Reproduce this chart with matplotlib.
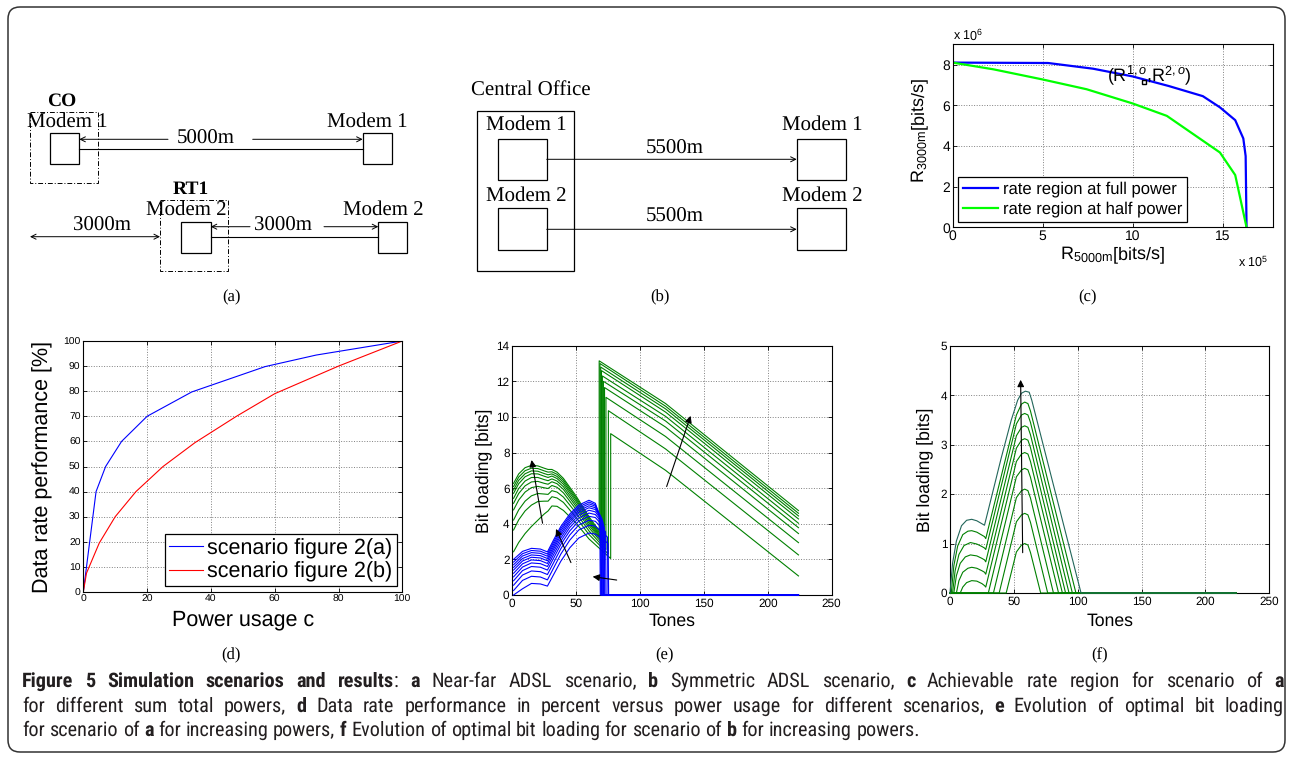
import matplotlib
matplotlib.use('Agg')
import matplotlib.pyplot as plt
from matplotlib.patches import Rectangle, FancyBboxPatch
from matplotlib.font_manager import FontProperties, findfont

W, H = 1293, 761

# ---- (c) achievable rate region (x in 1e5 bit/s, y in 1e6 bit/s)
C_FULL_X = [0, 5.3, 7.8, 10, 12, 13.9, 14.85, 15.7, 16.15, 16.28, 16.33]
C_FULL_Y = [8.1, 8.08, 7.8, 7.42, 6.95, 6.45, 5.9, 5.27, 4.37, 3.5, 0]
C_HALF_X = [0, 2.26, 5, 7.44, 10, 11.9, 14.85, 15.7, 16.33]
C_HALF_Y = [8.1, 7.77, 7.27, 6.79, 6.09, 5.48, 3.68, 2.57, 0]
C_OPT = (10.65, 7.15)
C_LABELS = ['rate region at full power', 'rate region at half power']

# ---- (d) data rate performance vs power usage
D_POWER_A = [0, 4, 7, 12, 20, 34, 57, 73, 100]
D_RATE_A = [0, 40, 50, 60, 70, 79.7, 89.8, 94.4, 100]
D_POWER_B = [0, 1, 5, 10, 16.5, 25, 35, 48, 60, 80, 100]
D_RATE_B = [0, 7.5, 19.5, 30, 40, 50, 59.5, 70, 79, 90, 100]
D_LABELS = ['scenario figure 2(a)', 'scenario figure 2(b)']

# ---- (e) bit loading, near-far scenario
# green (user 1): left part on tones GL_X + jump tone, then jump to peak, mid at 120, end at 224
GL_X = [1, 5, 10, 15, 20, 25, 28, 31, 35, 40, 50, 60]
GL_Y = [
    [6.27, 6.80, 7.15, 7.28, 7.25, 7.12, 7.05, 7.05, 6.90, 6.55, 5.55, 4.40, 3.60],
    [6.09, 6.62, 6.98, 7.12, 7.10, 6.97, 6.90, 6.92, 6.78, 6.45, 5.45, 4.32, 3.45],
    [5.90, 6.44, 6.81, 6.97, 6.95, 6.82, 6.75, 6.80, 6.66, 6.34, 5.35, 4.24, 3.30],
    [5.71, 6.25, 6.64, 6.81, 6.80, 6.67, 6.60, 6.68, 6.54, 6.22, 5.24, 4.15, 3.18],
    [5.43, 5.98, 6.40, 6.60, 6.60, 6.48, 6.42, 6.52, 6.40, 6.08, 5.10, 4.04, 3.05],
    [5.15, 5.70, 6.13, 6.35, 6.38, 6.27, 6.22, 6.36, 6.25, 5.93, 4.96, 3.92, 2.92],
    [4.78, 5.33, 5.78, 6.03, 6.10, 6.02, 5.98, 6.15, 6.05, 5.74, 4.80, 3.78, 2.75],
    [4.21, 4.78, 5.27, 5.57, 5.70, 5.67, 5.65, 5.86, 5.78, 5.50, 4.60, 3.60, 2.55],
    [3.65, 4.22, 4.72, 5.05, 5.25, 5.27, 5.27, 5.52, 5.45, 5.20, 4.35, 3.40, 2.30],
    [2.43, 2.95, 3.45, 3.85, 4.20, 4.55, 4.72, 5.00, 4.98, 4.75, 4.03, 3.15, 2.05],
]
GR_XJ = [68.0, 68.6, 69.2, 69.8, 70.5, 71.3, 72.2, 73.3, 75.2, 77.0]
GR_PEAK = [13.15, 13.0, 12.8, 12.6, 12.3, 12.0, 11.65, 11.1, 10.35, 9.06]
GR_MID = [10.75, 10.6, 10.45, 10.27, 10.03, 9.77, 9.43, 8.9, 8.2, 7.0]
GR_END = [4.74, 4.59, 4.44, 4.27, 4.03, 3.78, 3.45, 2.94, 2.25, 1.07]
# blue (user 2)
BL_X = [1, 8, 15, 22, 27.5, 32, 38, 45, 52, 60, 65]
BL_Y = [
    [2.00, 2.45, 2.62, 2.58, 2.42, 3.05, 3.85, 4.55, 5.05, 5.32, 5.15],
    [1.85, 2.32, 2.50, 2.46, 2.30, 2.93, 3.73, 4.44, 4.95, 5.22, 5.07],
    [1.70, 2.19, 2.38, 2.34, 2.18, 2.80, 3.61, 4.33, 4.85, 5.12, 4.99],
    [1.55, 2.05, 2.25, 2.21, 2.05, 2.67, 3.48, 4.21, 4.74, 5.01, 4.90],
    [1.40, 1.91, 2.12, 2.08, 1.92, 2.54, 3.35, 4.09, 4.63, 4.90, 4.80],
    [1.22, 1.75, 1.97, 1.93, 1.77, 2.39, 3.20, 3.95, 4.49, 4.76, 4.67],
    [1.02, 1.57, 1.80, 1.76, 1.60, 2.22, 3.03, 3.79, 4.33, 4.60, 4.52],
    [0.80, 1.37, 1.60, 1.56, 1.40, 2.02, 2.84, 3.60, 4.15, 4.42, 4.35],
    [0.55, 1.12, 1.35, 1.31, 1.15, 1.77, 2.60, 3.37, 3.93, 4.20, 4.14],
    [0.25, 0.82, 1.05, 1.01, 0.85, 1.47, 2.30, 3.08, 3.65, 3.92, 3.87],
    [0.00, 0.35, 0.65, 0.62, 0.50, 1.10, 1.90, 2.65, 3.20, 3.48, 3.42],
]
BL_DROP_X = [68.5, 69, 69.5, 70, 70.5, 71, 71.5, 72, 73, 74.5, 75]
BL_TAIL_Y = [4.4, 4.4, 4.35, 4.3, 4.2, 4.1, 3.95, 3.8, 3.55, 3.25, 2.9]
E_ARROWS = [((23.7, 4.03), (15.1, 7.58)), ((45.9, 1.82), (34.2, 3.71)),
            ((81.7, 0.84), (62.9, 1.03)), ((120.8, 6.09), (139.6, 10.06))]

# ---- (f) bit loading, symmetric scenario (top curve first)
F_CURVES = [
    ([0, 2, 5, 9, 13, 17, 21, 25, 27, 30, 40, 48, 53, 56, 59, 62, 64, 102.6, 224],
     [0, 0.6, 1.05, 1.36, 1.47, 1.49, 1.46, 1.40, 1.37, 1.68, 2.72, 3.5, 3.9, 4.04, 4.08, 4.06, 3.9, 0, 0]),
    ([0, 1, 3, 6, 10, 14, 17, 21, 25, 27, 28, 52, 56, 58.5, 61, 63, 98.6, 224],
     [0, 0, 0.55, 0.95, 1.18, 1.25, 1.26, 1.23, 1.17, 1.14, 1.1, 3.6, 3.82, 3.86, 3.83, 3.68, 0, 0]),
    ([0, 2, 4, 7, 11, 16, 21, 25, 27, 28, 52, 56, 58.5, 61, 63, 95.8, 224],
     [0, 0, 0.45, 0.78, 0.96, 1.02, 0.99, 0.94, 0.91, 0.88, 3.42, 3.6, 3.63, 3.6, 3.45, 0, 0]),
    ([0, 3, 5, 8, 12, 16, 21, 25, 27, 28, 52, 56, 58.5, 61, 63, 93.2, 224],
     [0, 0, 0.35, 0.6, 0.73, 0.77, 0.75, 0.7, 0.67, 0.63, 3.18, 3.35, 3.38, 3.35, 3.2, 0, 0]),
    ([0, 5, 7, 10, 14, 17, 21, 25, 27, 28, 52, 56, 58.5, 61, 63, 90.5, 224],
     [0, 0, 0.25, 0.42, 0.5, 0.52, 0.5, 0.45, 0.42, 0.38, 2.93, 3.09, 3.12, 3.09, 2.94, 0, 0]),
    ([0, 8, 10, 13, 17, 21, 25, 27, 28, 52, 56, 58.5, 61, 63, 88, 224],
     [0, 0, 0.12, 0.21, 0.25, 0.24, 0.19, 0.15, 0.12, 2.66, 2.81, 2.84, 2.81, 2.66, 0, 0]),
    ([0, 30, 52, 56, 58.5, 61, 63, 85, 224], [0, 0, 2.35, 2.49, 2.52, 2.49, 2.34, 0, 0]),
    ([0, 34, 52, 56, 58.5, 61, 63, 81, 224], [0, 0, 1.93, 2.07, 2.1, 2.07, 1.92, 0, 0]),
    ([0, 38.5, 52, 56, 58.5, 61, 63, 76.5, 224], [0, 0, 1.44, 1.58, 1.61, 1.58, 1.43, 0, 0]),
    ([0, 44, 52, 56, 58.5, 61, 63, 71, 224], [0, 0, 0.83, 0.97, 1.0, 0.97, 0.82, 0, 0]),
]
F_ARROW = ((56.9, 0.815), (55.3, 4.31))

CAPTION = [
    "**Figure 5 Simulation scenarios and results**: **a** Near-far ADSL scenario, **b** Symmetric ADSL scenario, **c** Achievable rate region for scenario of **a**",
    "for different sum total powers, **d** Data rate performance in percent versus power usage for different scenarios, **e** Evolution of optimal bit loading",
    "for scenario of **a** for increasing powers, **f** Evolution of optimal bit loading for scenario of **b** for increasing powers.",
]

plt.rcParams['font.family'] = 'Liberation Sans'
plt.rcParams['mathtext.fontset'] = 'custom'
plt.rcParams['mathtext.rm'] = 'Liberation Sans'
plt.rcParams['mathtext.it'] = 'Liberation Sans:italic'
plt.rcParams['text.hinting'] = 'no_hinting'
SERIF = 'Liberation Serif'


def has_font(name):
    try:
        findfont(FontProperties(family=name), fallback_to_default=False)
        return True
    except Exception:
        return False


fig = plt.figure(figsize=(W / 100, H / 100), dpi=100)

# overlay in pixel coordinates for the frame, diagrams and caption
ov = fig.add_axes([0, 0, 1, 1])
ov.set_xlim(0, W)
ov.set_ylim(H, 0)
ov.axis('off')

ov.add_patch(FancyBboxPatch((8, 7), 1277, 745, boxstyle='round,pad=0,rounding_size=12',
                            fill=False, lw=1.1, ec='#333333'))


def box(x0, y0, x1, y1, ls='-', lw=0.9):
    ov.add_patch(Rectangle((x0, y0), x1 - x0, y1 - y0, fill=False, lw=lw, ec='k', ls=ls))


def arrow(x0, y0, x1, y1, style='->'):
    ov.annotate('', xy=(x1, y1), xytext=(x0, y0),
                arrowprops=dict(arrowstyle=style, lw=0.7, color='k', shrinkA=0, shrinkB=0,
                                mutation_scale=9))


def stext(x, y, s, fs=15, bold=False):
    ov.text(x, y, s, family=SERIF, fontsize=fs, ha='center', va='center',
            fontweight='bold' if bold else 'normal')


dashdot = (0, (5, 2, 1, 2))

# (a) near-far scenario
stext(61.7, 101, 'CO', 14, True)
box(30, 112.3, 98.3, 182.7, ls=dashdot, lw=0.7)
stext(67.3, 121.3, 'Modem 1')
box(50, 133.3, 79.3, 164)
stext(367.3, 121.3, 'Modem 1')
box(362.7, 133.3, 391.7, 164)
ov.plot([79.3, 362.7], [149, 149], color='k', lw=0.8)
stext(205.3, 138.3, '5000m')
arrow(168, 139.3, 79.3, 139.3)
arrow(252.7, 139.3, 362.7, 139.3)
stext(190.8, 189, 'RT1', 14, True)
box(160, 200, 228.3, 271, ls=dashdot, lw=0.7)
stext(186.7, 210, 'Modem 2')
box(181, 221.7, 210.7, 252.7)
stext(383.3, 210, 'Modem 2')
box(378.3, 221.7, 407.3, 252.7)
ov.plot([210.7, 378.3], [236.7, 236.7], color='k', lw=0.8)
stext(283.3, 226, '3000m')
arrow(250, 226.7, 210.7, 226.7)
arrow(324, 226.7, 378.3, 226.7)
stext(101.7, 226, '3000m')
arrow(30, 236.7, 160, 236.7, '<->')
stext(231, 297, '(a)', 12)

# (b) symmetric scenario
stext(531, 90, 'Central Office')
box(476.7, 111, 574.3, 271)
stext(526.3, 125, 'Modem 1')
box(497.7, 139, 546.7, 180)
stext(526.3, 196, 'Modem 2')
box(497.7, 208.3, 546.7, 250)
stext(822, 125, 'Modem 1')
box(796.7, 139, 846, 180)
stext(822, 196, 'Modem 2')
box(796.7, 208.3, 846, 250)
arrow(546.7, 159.3, 796.7, 159.3)
arrow(546.7, 229.3, 796.7, 229.3)
stext(675, 148.3, '5500m')
stext(675, 216.7, '5500m')
stext(660, 297, '(b)', 12)


def rect(l, t, r, b):
    return [l / W, 1 - b / H, (r - l) / W, (b - t) / H]


def style(ax, fs):
    ax.tick_params(direction='in', length=3, width=0.6, top=True, right=True,
                   labelsize=fs, pad=2)
    ax.grid(True, ls=':', color='0.5', lw=0.7)
    ax.set_axisbelow(True)
    for s in ax.spines.values():
        s.set_linewidth(0.8)


# (c)
axc = fig.add_axes(rect(952.7, 44.3, 1273, 227.3))
axc.plot(C_FULL_X, C_FULL_Y, color='#0000ff', lw=1.6, label=C_LABELS[0])
axc.plot(C_HALF_X, C_HALF_Y, color='#00ff00', lw=1.6, label=C_LABELS[1])
axc.plot([C_OPT[0]], [C_OPT[1]], 's', ms=3.5, mfc='none', mec='k', mew=1)
axc.text(8.56, 7.48, r'(R$^{1,o}$,R$^{2,o}$)', fontsize=13, va='center')
axc.set_xlim(0, 17.8)
axc.set_ylim(0, 9)
axc.set_xticks([0, 5, 10, 15])
axc.set_yticks([0, 2, 4, 6, 8])
style(axc, 10)
axc.legend(loc='lower left', bbox_to_anchor=(0.0156, 0.027), borderaxespad=0, fancybox=False,
           edgecolor='k', framealpha=1, fontsize=12, handlelength=2.1, labelspacing=0.25,
           borderpad=0.3, handletextpad=0.3).get_frame().set_linewidth(0.9)
axc.set_ylabel(r'R$_{\mathrm{3000m}}$[bits/s]', fontsize=13)
axc.yaxis.set_label_coords(-0.07, 0.53)
axc.set_xlabel(r'R$_{\mathrm{5000m}}$[bits/s]', fontsize=13, va='top')
axc.xaxis.set_label_coords(0.5, -0.09)
ov.text(953.3, 35, r'x 10$^{6}$', fontsize=9, ha='left', va='center')
ov.text(1238, 262, r'x 10$^{5}$', fontsize=9, ha='left', va='center')
stext(1087, 297, '(c)', 12)

# (d)
axd = fig.add_axes(rect(83.3, 341, 402.3, 592))
axd.plot(D_POWER_A, D_RATE_A, color='#0000ff', lw=0.8, label=D_LABELS[0])
axd.plot(D_POWER_B, D_RATE_B, color='#ff0000', lw=0.8, label=D_LABELS[1])
axd.set_xlim(0, 100)
axd.set_ylim(0, 100)
axd.set_xticks(range(0, 101, 20))
axd.set_yticks(range(0, 101, 10))
style(axd, 7.5)
axd.legend(loc='lower right', bbox_to_anchor=(0.982, 0.024), borderaxespad=0, fancybox=False,
           edgecolor='k', framealpha=1, fontsize=15.5, handlelength=1.55, labelspacing=0.12,
           borderpad=0.2, handletextpad=0.2).get_frame().set_linewidth(0.9)
axd.set_ylabel('Data rate performance [%]', fontsize=15.5)
axd.yaxis.set_label_coords(-0.094, 0.5)
axd.set_xlabel('Power usage c', fontsize=15.5, va='top')
axd.xaxis.set_label_coords(0.5, -0.07)
stext(231, 655, '(d)', 12)

# (e)
axe = fig.add_axes(rect(512.3, 345.7, 831.7, 595))
for i in range(len(GL_Y)):
    xs = GL_X + [GR_XJ[i], GR_XJ[i], 120, 224]
    ys = GL_Y[i] + [GR_PEAK[i], GR_MID[i], GR_END[i]]
    axe.plot(xs, ys, color='#008000', lw=0.8, zorder=3, clip_on=False)
for i in range(len(BL_Y)):
    xs = BL_X + [BL_DROP_X[i], BL_DROP_X[i] + 0.4, 224]
    ys = BL_Y[i] + [BL_TAIL_Y[i], 0, 0]
    axe.plot(xs, ys, color='#0000ff', lw=0.8, zorder=3, clip_on=False)
for tail, head in E_ARROWS:
    axe.annotate('', xy=head, xytext=tail, zorder=5,
                 arrowprops=dict(arrowstyle='-|>', lw=0.8, color='k', mutation_scale=10,
                                 shrinkA=0, shrinkB=0))
axe.set_xlim(0, 250)
axe.set_ylim(0, 14)
axe.set_xticks(range(0, 251, 50))
axe.set_yticks(range(0, 15, 2))
style(axe, 8.5)
axe.set_ylabel('Bit loading [bits]', fontsize=12.7)
axe.yaxis.set_label_coords(-0.065, 0.5)
axe.set_xlabel('Tones', fontsize=12.7, va='top')
axe.xaxis.set_label_coords(0.5, -0.073)
stext(664, 655, '(e)', 12)

# (f)
axf = fig.add_axes(rect(950, 345.7, 1269.3, 593))
for k, (xs, ys) in enumerate(F_CURVES):
    axf.plot(xs, ys, color='#22665a' if k == 0 else '#008000', lw=0.8, zorder=4 - 0.01 * k,
             clip_on=False)
axf.annotate('', xy=F_ARROW[1], xytext=F_ARROW[0], zorder=5,
             arrowprops=dict(arrowstyle='-|>', lw=0.8, color='k', mutation_scale=10,
                             shrinkA=0, shrinkB=0))
axf.set_xlim(0, 250)
axf.set_ylim(0, 5)
axf.set_xticks(range(0, 251, 50))
axf.set_yticks(range(0, 6))
style(axf, 8.5)
axf.set_ylabel('Bit loading [bits]', fontsize=12.7)
axf.yaxis.set_label_coords(-0.052, 0.5)
axf.set_xlabel('Tones', fontsize=12.7, va='top')
axf.xaxis.set_label_coords(0.5, -0.08)
stext(1100, 655, '(f)', 12)

# caption, justified like the journal layout
cap_family = 'Liberation Sans'
for name in ['Liberation Sans Narrow', 'DejaVu Sans Condensed', 'Roboto Condensed',
             'Open Sans Condensed']:
    if has_font(name):
        cap_family = name
        break
cap_color = '#231f20'
renderer = fig.canvas.get_renderer()
x_left, x_right = 22, 1284
baselines = [687, 712, 736]


def parse(line):
    words = [[]]
    for k, chunk in enumerate(line.split('**')):
        bold = (k % 2 == 1)
        for j, part in enumerate(chunk.split(' ')):
            if j > 0:
                words.append([])
            if part:
                words[-1].append((part, bold))
    return [w for w in words if w]


def width(t):
    return t.get_window_extent(renderer).width


# fit the font size so the longest justified line keeps near-normal word spacing
plain = CAPTION[1].replace('**', '')
probe = ov.text(0, 0, plain, family=cap_family, fontsize=12)
cap_size = min(14.6, 12 * (x_right - x_left) / width(probe) * 0.985)
probe.remove()

probe1 = ov.text(0, 0, 'a a', family=cap_family, fontsize=cap_size)
probe2 = ov.text(0, 0, 'aa', family=cap_family, fontsize=cap_size)
space_w = width(probe1) - width(probe2)
probe1.remove()
probe2.remove()

for n, line in enumerate(CAPTION):
    words = parse(line)
    items = []
    for w in words:
        segs = []
        for txt, bold in w:
            t = ov.text(0, baselines[n], txt, family=cap_family, fontsize=cap_size,
                        fontweight='bold' if bold else 'normal', color=cap_color,
                        ha='left', va='baseline')
            segs.append((t, width(t)))
        items.append(segs)
    total = sum(wd for segs in items for _, wd in segs)
    if n < len(CAPTION) - 1:
        gap = (x_right - x_left - total) / (len(items) - 1)
    else:
        gap = space_w
    x = x_left
    for segs in items:
        for t, wd in segs:
            t.set_x(x)
            x += wd
        x += gap

fig.savefig('out.png', dpi=100)
